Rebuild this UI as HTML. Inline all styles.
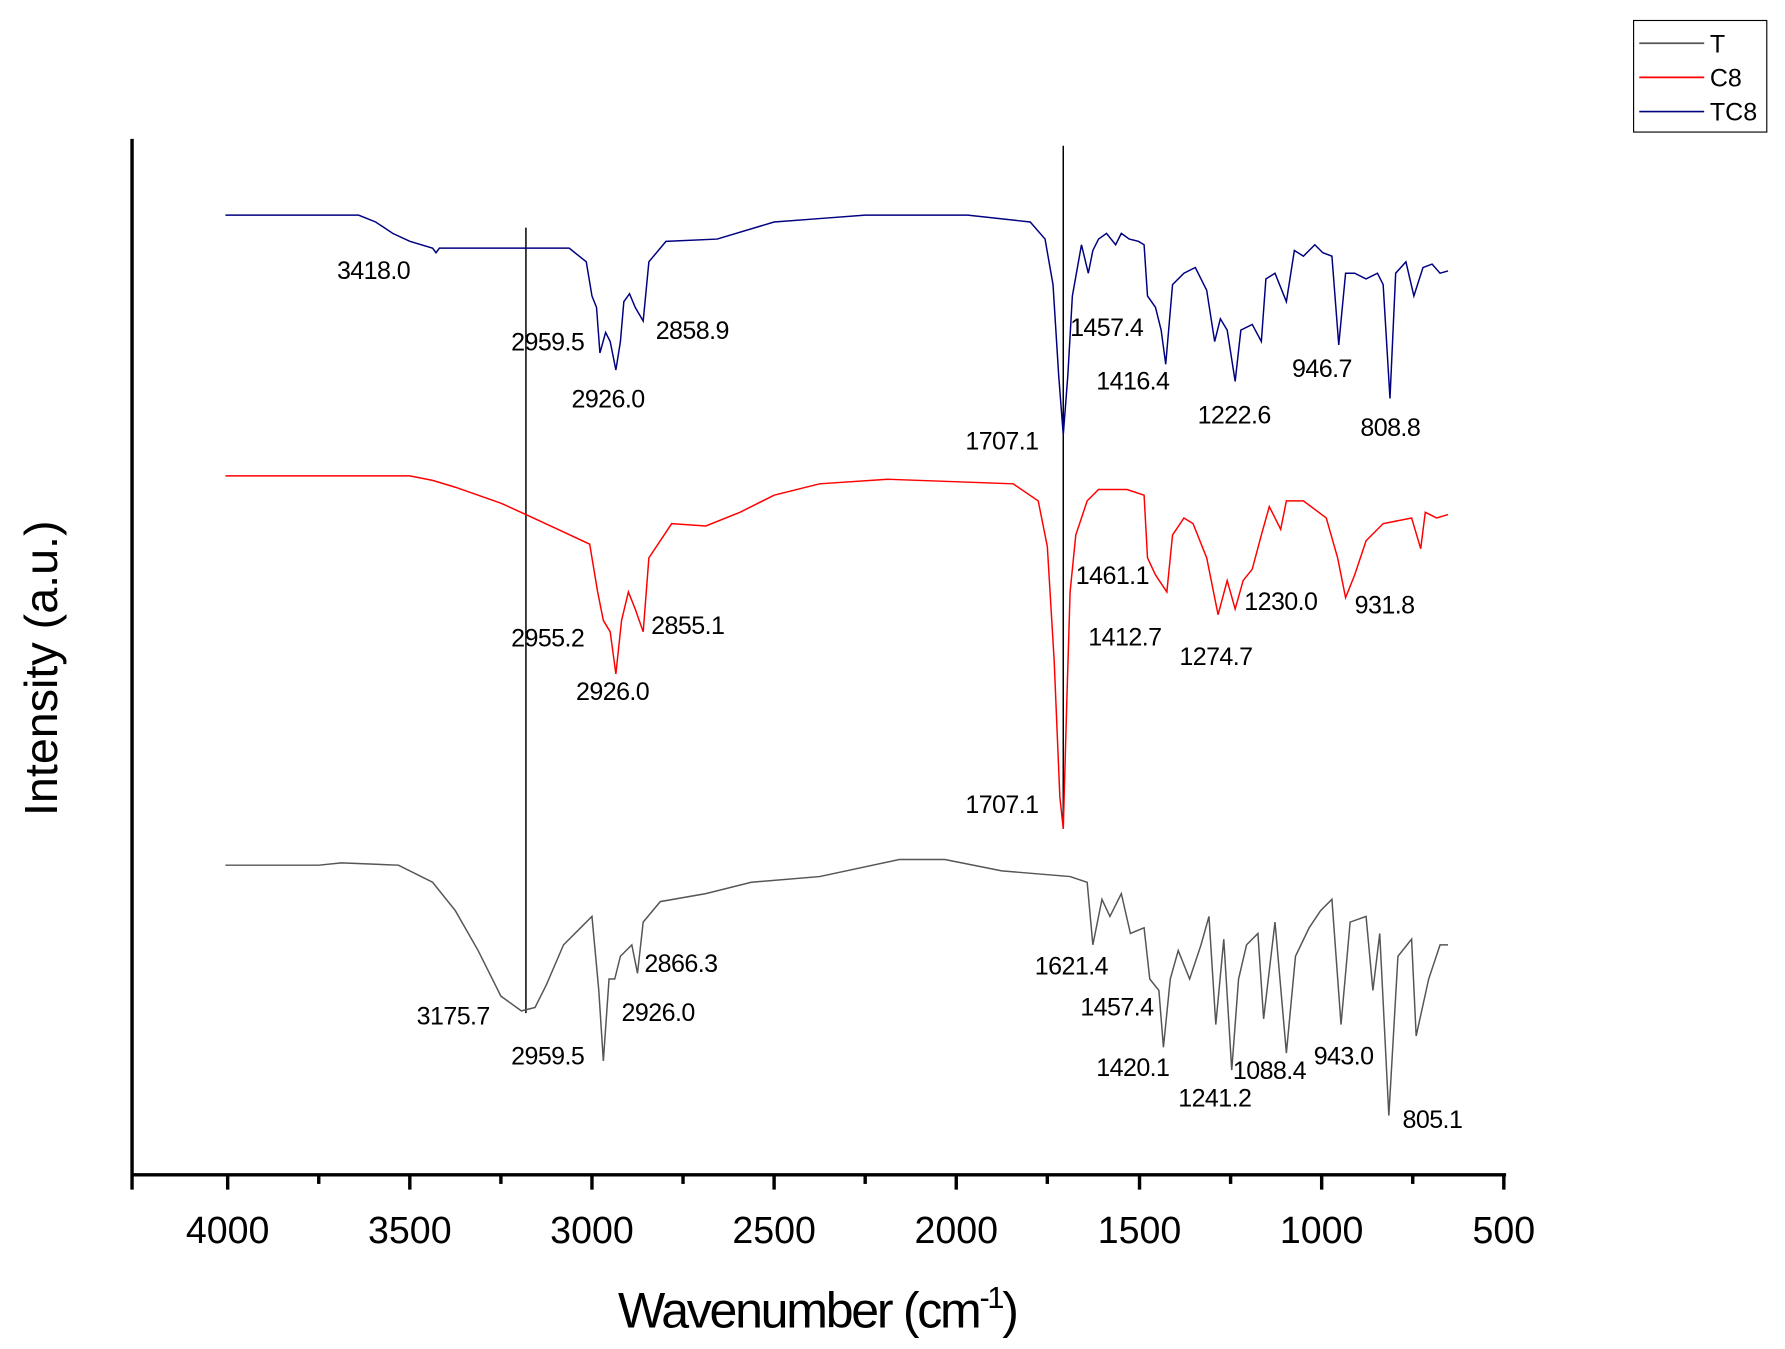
<!DOCTYPE html>
<html><head><meta charset="utf-8"><style>html,body{margin:0;padding:0;background:#fff}svg{display:block}</style></head>
<body>
<svg width="1785" height="1349" viewBox="0 0 1568 1185" preserveAspectRatio="none" xmlns="http://www.w3.org/2000/svg" font-family="Liberation Sans, Arial, sans-serif">
<rect width="1568" height="1185" fill="#fff"/>
<line x1="116" y1="122" x2="116" y2="1045" stroke="#000" stroke-width="3"/>
<line x1="115" y1="1032" x2="1323" y2="1032" stroke="#000" stroke-width="3"/>
<g stroke="#000" stroke-width="3">
<line x1="200" y1="1032" x2="200" y2="1045"/><line x1="360" y1="1032" x2="360" y2="1045"/><line x1="520" y1="1032" x2="520" y2="1045"/><line x1="680" y1="1032" x2="680" y2="1045"/><line x1="840" y1="1032" x2="840" y2="1045"/><line x1="1001" y1="1032" x2="1001" y2="1045"/><line x1="1161" y1="1032" x2="1161" y2="1045"/><line x1="1321" y1="1032" x2="1321" y2="1045"/>
<line x1="280" y1="1032" x2="280" y2="1040"/><line x1="440" y1="1032" x2="440" y2="1040"/><line x1="600" y1="1032" x2="600" y2="1040"/><line x1="760" y1="1032" x2="760" y2="1040"/><line x1="920" y1="1032" x2="920" y2="1040"/><line x1="1081" y1="1032" x2="1081" y2="1040"/><line x1="1241" y1="1032" x2="1241" y2="1040"/>
</g>
<g font-size="33" text-anchor="middle" fill="#000">
<text x="200" y="1092">4000</text><text x="360" y="1092">3500</text><text x="520" y="1092">3000</text><text x="680" y="1092">2500</text><text x="840" y="1092">2000</text><text x="1001" y="1092">1500</text><text x="1161" y="1092">1000</text><text x="1321" y="1092">500</text>
</g>
<text x="718" y="1166" font-size="44" text-anchor="middle" letter-spacing="-2">Wavenumber (cm<tspan font-size="27" dy="-17">-1</tspan><tspan dy="17">)</tspan></text>
<text transform="translate(50,587) rotate(-90)" font-size="41" text-anchor="middle">Intensity (a.u.)</text>
<rect x="1435" y="18" width="117" height="98" fill="#fff" stroke="#000" stroke-width="1"/>
<line x1="1440" y1="38" x2="1497" y2="38" stroke="#555" stroke-width="1.5"/>
<line x1="1440" y1="68" x2="1497" y2="68" stroke="#f00" stroke-width="1.5"/>
<line x1="1440" y1="98" x2="1497" y2="98" stroke="#000080" stroke-width="1.5"/>
<g font-size="22"><text x="1502" y="46">T</text><text x="1502" y="76">C8</text><text x="1502" y="106">TC8</text></g>
<line x1="462" y1="200" x2="462" y2="890" stroke="#000" stroke-width="1.3"/>
<line x1="934" y1="128" x2="934" y2="728" stroke="#000" stroke-width="1.3"/>
<polyline fill="none" stroke="#000080" stroke-width="1.3" points="198,189 315,189 330,195 345,205 360,212 380,218 383,222 386,218 500,218 515,230 520,260 524,270 527,310 532,292 536,300 541,325 545,300 548,265 553,258 558,270 565,282 570,230 585,212 630,210 680,195 720,192 760,189 850,189 905,195 918,210 925,250 930,330 934,382 938,330 942,260 950,215 956,240 960,220 965,210 972,205 980,215 985,205 992,210 1000,212 1005,215 1008,260 1015,270 1020,290 1024,320 1030,250 1040,240 1050,235 1060,255 1067,300 1072,280 1078,290 1085,335 1090,290 1100,285 1108,300 1112,245 1120,240 1130,265 1137,220 1145,225 1155,215 1162,222 1170,225 1176,303 1182,240 1190,240 1200,245 1210,240 1215,250 1221,350 1226,240 1235,230 1242,260 1250,235 1258,232 1265,240 1272,238"/>
<polyline fill="none" stroke="#f00" stroke-width="1.3" points="198,418 360,418 380,422 400,428 420,435 440,442 462,452 490,465 518,478 525,520 530,545 536,555 541,592 546,545 552,520 558,535 565,555 570,490 590,460 620,462 650,450 680,435 720,425 780,421 890,425 912,440 920,480 926,580 931,700 934,728 937,620 940,520 945,470 955,440 965,430 990,430 1005,435 1008,490 1015,505 1025,520 1030,470 1040,455 1048,460 1060,490 1070,540 1078,510 1085,535 1092,510 1100,500 1108,470 1115,445 1125,465 1130,440 1145,440 1165,455 1175,490 1182,525 1190,505 1200,475 1215,460 1240,455 1248,482 1252,450 1262,455 1272,452"/>
<polyline fill="none" stroke="#555" stroke-width="1.3" points="198,760 280,760 300,758 350,760 380,775 400,800 420,835 440,875 458,888 470,885 480,865 495,830 510,815 520,805 526,870 530,932 535,860 540,860 545,840 555,830 560,855 565,810 580,792 620,785 660,775 720,770 790,755 830,755 880,765 940,770 955,775 960,830 968,790 975,805 985,785 993,820 1005,815 1010,860 1018,870 1022,920 1028,860 1035,835 1045,860 1055,830 1062,805 1068,900 1075,825 1082,940 1088,860 1095,830 1105,820 1110,895 1120,810 1130,925 1138,840 1150,815 1160,800 1170,790 1178,900 1186,810 1200,805 1206,870 1212,820 1220,980 1228,840 1240,825 1244,910 1255,860 1265,830 1272,830"/>
<g font-size="22" fill="#000" letter-spacing="-0.5">
<text x="296" y="245">3418.0</text><text x="449" y="308">2959.5</text><text x="576" y="298">2858.9</text><text x="502" y="358">2926.0</text><text x="940" y="295">1457.4</text><text x="963" y="342">1416.4</text><text x="1052" y="372">1222.6</text><text x="1135" y="331">946.7</text><text x="1195" y="383">808.8</text><text x="848" y="395">1707.1</text>
<text x="945" y="513">1461.1</text><text x="449" y="568">2955.2</text><text x="572" y="557">2855.1</text><text x="506" y="615">2926.0</text><text x="956" y="567">1412.7</text><text x="1093" y="536">1230.0</text><text x="1190" y="539">931.8</text><text x="1036" y="584">1274.7</text><text x="848" y="714">1707.1</text>
<text x="566" y="854">2866.3</text><text x="909" y="856">1621.4</text><text x="366" y="900">3175.7</text><text x="546" y="897">2926.0</text><text x="949" y="892">1457.4</text><text x="449" y="935">2959.5</text><text x="963" y="945">1420.1</text><text x="1083" y="948">1088.4</text><text x="1154" y="935">943.0</text><text x="1035" y="972">1241.2</text><text x="1232" y="991">805.1</text>
</g>
</svg>
</body></html>
